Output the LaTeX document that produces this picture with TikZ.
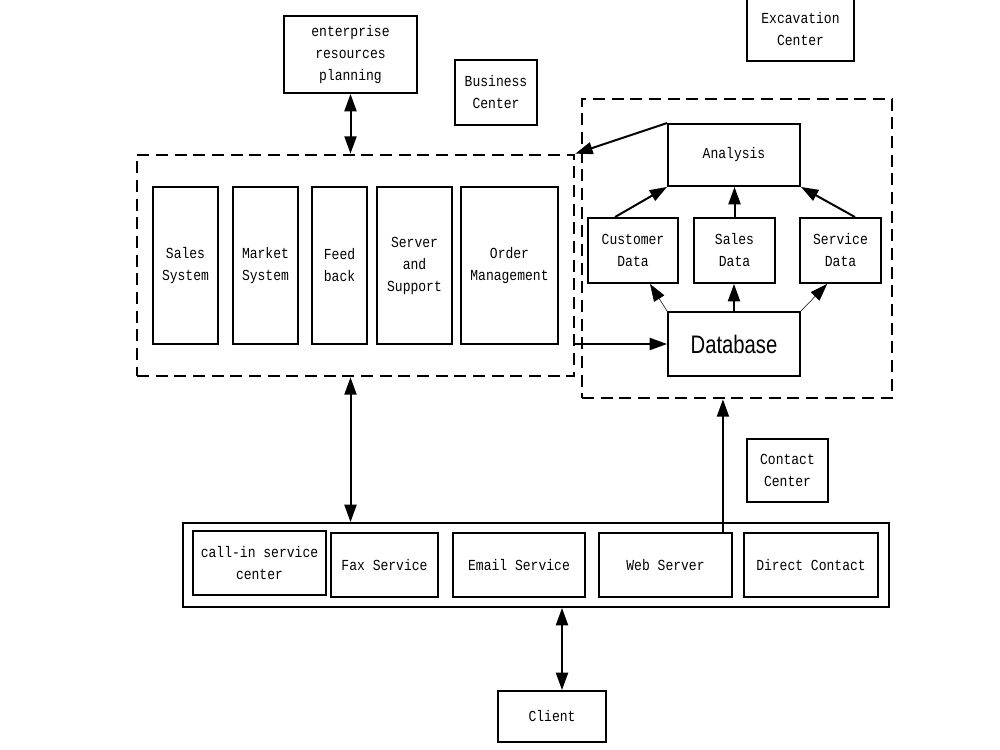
\documentclass[tikz,border=0pt]{standalone}
\usepackage{fontspec}
\setmainfont{Liberation Mono}[FakeStretch=0.85]
\newfontfamily\dbfont{Liberation Sans}[FakeStretch=0.8]
\usetikzlibrary{arrows.meta}
\begin{document}
\begin{tikzpicture}[x=0.75pt,y=-0.75pt,
  box/.style={draw, line width=1.4pt, inner sep=0pt, align=center,
              font=\fontsize{11.5}{16.5}\selectfont},
  sz/.style 2 args={minimum width={#1*0.75pt}, minimum height={#2*0.75pt}},
  dbox/.style={draw, line width=2pt, dash pattern=on 9pt off 5pt, inner sep=0pt},
  tip/.tip={Triangle[length=13pt,width=9pt]},
  arr/.style={line width=1.5pt, -tip},
  darr/.style={line width=1.5pt, tip-tip},
  tarr/.style={line width=0.4pt, -tip}]
\useasboundingbox (0,0) rectangle (1000,750);

% top boxes
\node[box, sz={133}{77}] (erp) at (350.5,54.5) {enterprise\\resources\\planning};
\node[box, sz={82}{65}] (bc) at (496,92.5) {Business\\Center};
\node[box, sz={107}{64}] (ec) at (800.5,29) {Excavation\\Center};

% left dashed system box
\node[dbox, sz={437}{221}] (sys) at (355.5,265.5) {};
\node[box, sz={65}{157}] (ss) at (185.5,265.5) {Sales\\System};
\node[box, sz={65}{157}] (ms) at (265.5,265.5) {Market\\System};
\node[box, sz={55}{157}] (fb) at (339.5,265.5) {Feed\\back};
\node[box, sz={75}{157}] (sup) at (414.5,265.5) {Server\\and\\Support};
\node[box, sz={97}{157}] (om) at (509.5,265.5) {Order\\Management};

% right dashed analysis box
\node[dbox, sz={310}{299}] (rbox) at (737,248.5) {};
\node[box, sz={132}{62}] (ana) at (734,155) {Analysis};
\node[box, sz={90}{65}] (cust) at (633,250.5) {Customer\\Data};
\node[box, sz={81}{65}] (sales) at (734.5,250.5) {Sales\\Data};
\node[box, sz={81}{65}] (serv) at (840.5,250.5) {Service\\Data};
\node[box, sz={132}{64}, font=\dbfont\fontsize{19}{22}\selectfont] (db) at (734,344) {Database};

% contact
\node[box, sz={81}{63}] (cc) at (787.5,470.5) {Contact\\Center};

% service bar
\node[box, sz={706}{84}] (svc) at (536,565) {};
\node[box, sz={133}{64}] (callin) at (259.5,563) {call-in service\\center};
\node[box, sz={107}{64}] (fax) at (384.5,565) {Fax Service};
\node[box, sz={132}{64}] (email) at (519,565) {Email Service};
\node[box, sz={133}{64}] (web) at (665.5,565) {Web Server};
\node[box, sz={134}{64}] (direct) at (811,565) {Direct Contact};

\node[box, sz={108}{51}] (client) at (552,716.5) {Client};

% connectors
\draw[darr] (erp.south) -- (erp.south |- sys.north);
\draw[darr] (erp.south |- sys.south) -- (erp.south |- svc.north);
\coordinate (cl) at ([xshift=7.5pt]client.north);
\draw[darr] (cl |- svc.south) -- (cl);
\coordinate (wt) at ([xshift=-7.5pt]web.north east);
\draw[arr] (wt) -- (wt |- rbox.south);
\draw[arr] (ana.north west) -- (sys.north east);
\draw[arr] (db.west -| sys.east) -- (db.west);

\coordinate (ct) at ([xshift=-13.5pt]cust.north);
\draw[arr] (ct) -- (ana.south west);
\draw[arr] (sales.north) -- (sales.north |- ana.south);
\coordinate (st) at ([xshift=10.9pt]serv.north);
\draw[arr] (st) -- (ana.south east);

\coordinate (cb) at ([xshift=12.75pt]cust.south);
\draw[tarr] (db.north west) -- (cb);
\draw[arr] (db.north) -- (db.north |- sales.south);
\coordinate (sb) at ([xshift=-10pt]serv.south);
\draw[tarr] (db.north east) -- (sb);
\end{tikzpicture}
\end{document}
